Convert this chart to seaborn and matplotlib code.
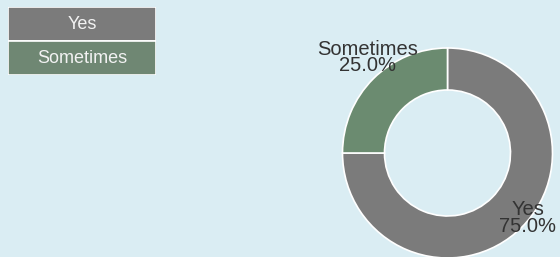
import numpy as np
import matplotlib
matplotlib.use("Agg")
import matplotlib.pyplot as plt
import seaborn as sns

categories = ["Yes", "Sometimes"]
shares = [75.0, 25.0]
colors = ["#7b7b7b", "#6b8b70"]

BG = "#daedf3"
TEXT = "#333333"

sns.set_theme(style="white")
plt.rcParams["font.family"] = ["Liberation Sans", "DejaVu Sans"]

fig = plt.figure(figsize=(5.6, 2.57), dpi=100, facecolor=BG)
W, H = 560, 257

# legend drawn as a small seaborn bar strip
lax = fig.add_axes([8 / W, 1 - 75 / H, 148 / W, 68 / H])
sns.barplot(x=[1] * len(categories), y=categories, hue=categories,
            palette=colors, width=1.0, edgecolor="white", linewidth=1.2,
            legend=False, ax=lax)
lax.set_xlim(0, 1)
lax.set_ylim(len(categories) - 0.5, -0.5)
lax.axis("off")
for i, c in enumerate(categories):
    lax.text(0.5, i, c, ha="center", va="center", color="#f2f2f2", fontsize=13)

# donut
cx, cy, r = 447.5, 153, 105
ax = fig.add_axes([(cx - r) / W, (H - cy - r) / H, 2 * r / W, 2 * r / H])
ax.set_facecolor(BG)
wedges, _ = ax.pie(shares, colors=colors, startangle=180, counterclock=True,
                   wedgeprops=dict(width=0.4, edgecolor="white", linewidth=1.2))
ax.set_xlim(-1, 1)
ax.set_ylim(-1, 1)
ax.set_aspect("equal")

for w, c, s in zip(wedges, categories, shares):
    ang = np.deg2rad((w.theta1 + w.theta2) / 2)
    d = 1.08
    ax.annotate(f"{c}\n{s:.1f}%", xy=(d * np.cos(ang), d * np.sin(ang)),
                xytext=(0, 11), textcoords="offset points",
                ha="center", va="center", color=TEXT, fontsize=14.5,
                linespacing=0.85, annotation_clip=False)

fig.savefig("out.png", dpi=100, facecolor=BG)
